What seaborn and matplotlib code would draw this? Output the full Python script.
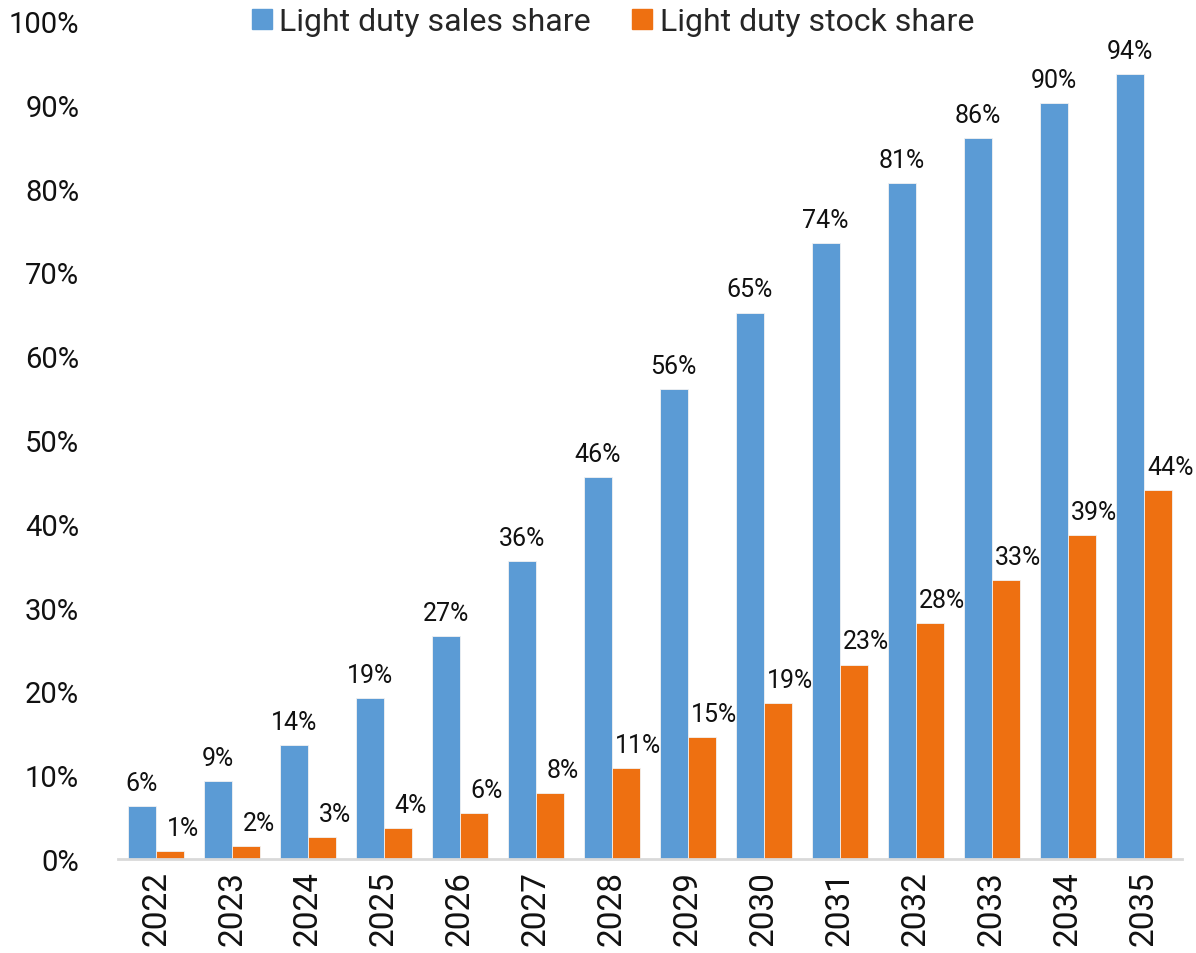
import pandas as pd
import numpy as np
import matplotlib.pyplot as plt
import seaborn as sns
from matplotlib.ticker import PercentFormatter
from matplotlib.lines import Line2D

# Datos
years = [str(y) for y in range(2022, 2036)]
sales_share = [6.3, 9.3, 13.6, 19.2, 26.6, 35.6, 45.6, 56.1, 65.2, 73.5, 80.7, 86.0, 90.2, 93.7]
stock_share = [1.0, 1.6, 2.6, 3.7, 5.5, 7.9, 10.9, 14.6, 18.6, 23.2, 28.2, 33.3, 38.7, 44.0]
series_names = ["Light duty sales share", "Light duty stock share"]
colors = ["#5B9BD5", "#EE7011"]

df = pd.DataFrame({
    "year": years * 2,
    "share": sales_share + stock_share,
    "series": [series_names[0]] * len(years) + [series_names[1]] * len(years),
})

sns.set_style("white")
plt.rcParams["font.family"] = ["Roboto", "DejaVu Sans"]

fig = plt.figure(figsize=(11.96, 9.54), dpi=100)
ax = fig.add_axes([0.0987, 0.0985, 0.8893, 0.8785])

sns.barplot(data=df, x="year", y="share", hue="series", palette=colors,
            width=0.74, saturation=1, edgecolor="#F2F2F2", linewidth=0.6,
            legend=False, ax=ax)

ax.set_ylim(0, 100)
ax.set_xlim(-0.5, len(years) - 0.5)
ax.set_yticks(np.arange(0, 101, 10))
ax.yaxis.set_major_formatter(PercentFormatter(decimals=0))
ax.set_xlabel("")
ax.set_ylabel("")
ax.tick_params(axis="y", length=0, labelsize=21, pad=28, labelcolor="#111111")
ax.tick_params(axis="x", length=0, labelsize=24, rotation=90, pad=8, labelcolor="#111111")

for side in ["top", "right", "left"]:
    ax.spines[side].set_visible(False)
ax.spines["bottom"].set_color("#D9D9D9")
ax.spines["bottom"].set_linewidth(2)

# Etiquetas de datos
for i, container in enumerate(ax.containers):
    dx = 0 if i == 0 else 9
    for bar in container:
        h = bar.get_height()
        ax.annotate(f"{h:.0f}%", (bar.get_x() + bar.get_width() / 2, h),
                    xytext=(dx, 8), textcoords="offset points",
                    ha="center", va="bottom", fontsize=18, color="#111111")

# Leyenda
handles = [Line2D([0], [0], marker="s", linestyle="", markersize=14,
                  markerfacecolor=c, markeredgecolor=c) for c in colors]
fig.legend(handles, series_names, loc="center", bbox_to_anchor=(0.51, 0.976),
           ncol=2, frameon=False, fontsize=23, handletextpad=0.05,
           columnspacing=1.1, handlelength=1.0)

plt.savefig("out.png", dpi=100)
plt.close()
